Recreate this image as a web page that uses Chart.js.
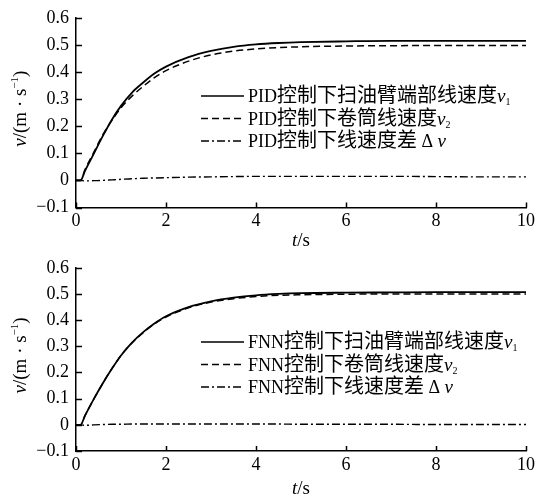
<!DOCTYPE html>
<html>
<head>
<meta charset="utf-8">
<script src="https://cdn.jsdelivr.net/npm/chart.js@4/dist/chart.umd.min.js"></script>
<style>
  body { margin: 0; background: #fff; }
  canvas { display: block; }
</style>
</head>
<body>
<canvas id="pidChart" width="538" height="250"></canvas>
<canvas id="fnnChart" width="538" height="248"></canvas>
<script>
// time axis (s)
const time = [0, 0.1, 0.2, 0.4, 0.6, 0.8, 1.0, 1.25, 1.5, 1.75, 2, 2.5, 3, 3.5, 4, 4.5, 5, 6, 7, 8, 9, 10];

// PID control
const pidV1 = [0, 0, 0.035, 0.1, 0.165, 0.225, 0.275, 0.325, 0.362, 0.395, 0.42, 0.455, 0.478, 0.493, 0.502, 0.507, 0.51, 0.513, 0.515, 0.515, 0.515, 0.515];
const pidV2 = [0, 0, 0.04, 0.105, 0.17, 0.222, 0.268, 0.312, 0.348, 0.38, 0.405, 0.44, 0.463, 0.477, 0.485, 0.49, 0.493, 0.496, 0.497, 0.498, 0.498, 0.498];
const pidDv = [0, 0, -0.002, -0.001, 0, 0.002, 0.004, 0.006, 0.008, 0.009, 0.01, 0.012, 0.013, 0.014, 0.015, 0.015, 0.015, 0.015, 0.015, 0.014, 0.013, 0.013];

// FNN control
const fnnV1 = [0, 0, 0.035, 0.1, 0.16, 0.215, 0.265, 0.315, 0.355, 0.388, 0.415, 0.45, 0.472, 0.486, 0.495, 0.5, 0.503, 0.505, 0.506, 0.507, 0.507, 0.507];
const fnnV2 = [0, 0, 0.035, 0.1, 0.16, 0.215, 0.265, 0.314, 0.353, 0.386, 0.412, 0.447, 0.469, 0.482, 0.49, 0.495, 0.497, 0.499, 0.5, 0.5, 0.5, 0.5];
const fnnDv = [0, 0, -0.002, 0, 0.001, 0.002, 0.002, 0.003, 0.003, 0.003, 0.003, 0.003, 0.003, 0.003, 0.003, 0.003, 0.002, 0.002, 0.002, 0.001, 0.001, 0.001];

const pidLabels = ['PID控制下扫油臂端部线速度', 'PID控制下卷筒线速度', 'PID控制下线速度差'];
const fnnLabels = ['FNN控制下扫油臂端部线速度', 'FNN控制下卷筒线速度', 'FNN控制下线速度差'];

const xTicks = [0, 2, 4, 6, 8, 10];
const yTicks = [-0.1, 0, 0.1, 0.2, 0.3, 0.4, 0.5, 0.6];

const SERIF = '"Liberation Serif", "Times New Roman", serif';
const CJK = '"Noto Sans CJK SC", sans-serif';

const styles = [
  { borderDash: [], borderWidth: 1.8 },
  { borderDash: [7, 4], borderWidth: 1.5 },
  { borderDash: [8, 3, 2, 3], borderWidth: 1.4 }
];

function pts(ys) {
  return time.map((t, i) => ({ x: t, y: ys[i] }));
}

function drawRich(ctx, parts, x, y) {
  let cx = x;
  parts.forEach(p => {
    ctx.font = p.font;
    ctx.fillText(p.text, cx, y + (p.dy || 0));
    cx += ctx.measureText(p.text).width;
  });
  return cx;
}

function richWidth(ctx, parts) {
  let w = 0;
  parts.forEach(p => { ctx.font = p.font; w += ctx.measureText(p.text).width; });
  return w;
}

function labelParts(label, idx) {
  const parts = [];
  label.match(/[A-Za-z]+|[^A-Za-z]+/g).forEach(run => {
    if (/^[A-Za-z]/.test(run)) parts.push({ text: run, font: '18px ' + SERIF });
    else parts.push({ text: run, font: '20px ' + CJK });
  });
  if (idx === 0 || idx === 1) {
    parts.push({ text: 'v', font: 'italic 19px ' + SERIF });
    parts.push({ text: String(idx + 1), font: '10px ' + SERIF, dy: 3 });
  } else {
    parts.push({ text: ' Δ ', font: '18px ' + SERIF });
    parts.push({ text: 'v', font: 'italic 19px ' + SERIF });
  }
  return parts;
}

const overlay = {
  id: 'overlay',
  afterDraw(chart, args, opts) {
    const { ctx, chartArea: ca, scales: { x, y } } = chart;
    ctx.save();
    ctx.strokeStyle = '#000';
    ctx.fillStyle = '#000';
    ctx.lineWidth = 1.5;
    // inward tick marks
    ctx.beginPath();
    xTicks.forEach(v => {
      const px = Math.round(x.getPixelForValue(v)) + 0.5;
      ctx.moveTo(px, ca.bottom);
      ctx.lineTo(px, ca.bottom - 5);
    });
    yTicks.forEach(v => {
      const py = Math.round(y.getPixelForValue(v)) + 0.5;
      ctx.moveTo(ca.left, py);
      ctx.lineTo(ca.left + 6, py);
    });
    ctx.stroke();

    // x title
    ctx.textBaseline = 'alphabetic';
    const xt = [
      { text: 't', font: 'italic 19px ' + SERIF },
      { text: '/s', font: '19px ' + SERIF }
    ];
    const xw = richWidth(ctx, xt);
    drawRich(ctx, xt, (ca.left + ca.right) / 2 - xw / 2, opts.xTitleY);

    // y title (rotated)
    const yt = [
      { text: 'v', font: 'italic 19px ' + SERIF },
      { text: '/(m · s', font: '19px ' + SERIF },
      { text: '−1', font: '11px ' + SERIF, dy: -8 },
      { text: ')', font: '19px ' + SERIF }
    ];
    const yw = richWidth(ctx, yt);
    ctx.save();
    ctx.translate(26, (ca.top + ca.bottom) / 2 - 4);
    ctx.rotate(-Math.PI / 2);
    drawRich(ctx, yt, -yw / 2, 0);
    ctx.restore();

    // legend
    chart.data.datasets.forEach((ds, i) => {
      const rowY = opts.legendY + i * 22.5;
      ctx.save();
      ctx.lineWidth = 1.6;
      ctx.setLineDash(ds.borderDash || []);
      ctx.beginPath();
      ctx.moveTo(201, rowY);
      ctx.lineTo(244, rowY);
      ctx.stroke();
      ctx.restore();
      drawRich(ctx, labelParts(opts.labels[i], i), 248, rowY + 6);
    });
    ctx.restore();
  }
};

function makeChart(id, series, labels, top, bottomH, legendY, xTitleY) {
  return new Chart(document.getElementById(id), {
    type: 'line',
    data: {
      datasets: series.map((s, i) => ({
        label: labels[i],
        data: pts(s),
        borderColor: '#000',
        borderWidth: styles[i].borderWidth,
        borderDash: styles[i].borderDash,
        pointRadius: 0,
        fill: false,
        cubicInterpolationMode: 'monotone'
      }))
    },
    options: {
      responsive: false,
      animation: false,
      devicePixelRatio: 1,
      layout: { padding: { left: 0, right: 11, top: top, bottom: 0 } },
      plugins: {
        legend: { display: false },
        tooltip: { enabled: false },
        overlay: { labels: labels, legendY: legendY, xTitleY: xTitleY }
      },
      scales: {
        x: {
          type: 'linear',
          min: 0,
          max: 10,
          afterFit: s => { s.height = bottomH; },
          afterBuildTicks: s => { s.ticks = xTicks.map(v => ({ value: v })); },
          ticks: { color: '#000', padding: 3, maxRotation: 0, font: { family: SERIF, size: 18 } },
          grid: { display: false, drawTicks: false },
          border: { display: true, color: '#000', width: 1.5 }
        },
        y: {
          type: 'linear',
          min: -0.1,
          max: 0.6,
          afterFit: s => { s.width = 76; },
          afterBuildTicks: s => { s.ticks = yTicks.map(v => ({ value: v })); },
          ticks: {
            color: '#000',
            padding: 7,
            font: { family: SERIF, size: 18 },
            callback: v => v === 0 ? '0' : (v < 0 ? '−' : '') + Math.abs(v).toFixed(1)
          },
          grid: { display: false, drawTicks: false },
          border: { display: true, color: '#000', width: 1.5 }
        }
      }
    },
    plugins: [overlay]
  });
}

makeChart('pidChart', [pidV1, pidV2, pidDv], pidLabels, 14, 42.5, 96, 246);
makeChart('fnnChart', [fnnV1, fnnV2, fnnDv], fnnLabels, 11, 47, 92, 244);
</script>
</body>
</html>
